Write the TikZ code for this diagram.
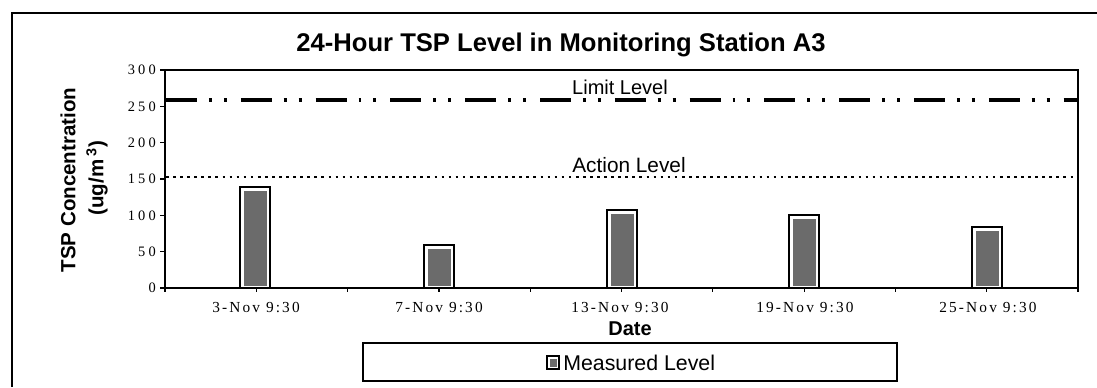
\documentclass[tikz,border=0pt]{standalone}
\usepackage{fontspec}
\setmainfont{Liberation Sans}
\newfontfamily\tickfont[LetterSpace=14]{Liberation Serif}
\newfontfamily\ytickfont[LetterSpace=22]{Liberation Serif}
\begin{document}
\begin{tikzpicture}[x=0.75pt,y=-0.75pt,
  frame/.style={line width=1.4pt},
  axisline/.style={line width=1.6pt},
  tickline/.style={line width=0.9pt},
  barout/.style={line width=1.5pt,draw=black,fill=white},
  barfill/.style={fill=black!58},
  ylab/.style={font=\ytickfont\fontsize{10.8}{12}\selectfont,anchor=east,inner sep=0pt},
  xlab/.style={font=\tickfont\fontsize{11.5}{13}\selectfont,anchor=base,inner sep=0pt},
  sans/.style={inner sep=0pt},
  limitline/.style={line width=2.3pt,dash pattern=on 23.2pt off 9pt on 2.2pt off 9pt on 2.2pt off 10.5pt},
  actionline/.style={line width=2.1pt,dash pattern=on 2pt off 3.3pt}]
\useasboundingbox (0,0) rectangle (1097,387);
% outer frame (only left and top edges visible)
\draw[frame] (12,387) -- (12,13) -- (1097,13);
% title
\node[sans,anchor=base,font=\bfseries\fontsize{19.2}{22}\selectfont] (title) at (561,51) {24-Hour TSP Level in Monitoring Station A3};
% plot area
\draw[axisline] (165,288) rectangle (1078,70);
% y ticks and labels
\foreach \v/\n in {0/y0,50/y50,100/y100,150/y150,200/y200,250/y250,300/y300}{
  \pgfmathsetmacro{\yy}{288-\v*0.72667}
  \draw[tickline] (160,\yy) -- (165,\yy);
  \node[ylab] (\n) at (156,\yy) {\v};
}
% x ticks
\foreach \k in {0,...,10}{
  \pgfmathsetmacro{\xx}{165+\k*91.3}
  \draw[tickline] (\xx,288) -- (\xx,292);
}
% level lines
\draw[limitline] (166,100) -- (1077,100);
\draw[actionline] (166,177) -- (1077,177);
\node[sans,anchor=base,font=\fontsize{15}{17}\selectfont] (limit) at (620,94) {Limit Level};
\node[sans,anchor=base,font=\fontsize{15.6}{17}\selectfont] (action) at (629,172) {Action Level};
% bars
\foreach \x/\t in {255/187,439/245,622/210,804/215,987/227}{
  \draw[barout] (\x-15,288) rectangle (\x+15,\t);
  \fill[barfill] (\x-11.5,286) rectangle (\x+11.5,\t+4);
}
% x labels
\node[xlab] (d1) at (256,312) {3-Nov 9:30};
\node[xlab] (d2) at (439,312) {7-Nov 9:30};
\node[xlab] (d3) at (620,312) {13-Nov 9:30};
\node[xlab] (d4) at (805,312) {19-Nov 9:30};
\node[xlab] (d5) at (988,312) {25-Nov 9:30};
% axis titles
\node[sans,anchor=base,font=\bfseries\fontsize{15}{17}\selectfont] (date) at (630,335) {Date};
\node[sans,rotate=90,font=\bfseries\fontsize{15.4}{17}\selectfont] (ytitle1) at (68,180) {TSP Concentration};
\node[sans,rotate=90,font=\bfseries\fontsize{15.4}{17}\selectfont] (ytitle2) at (97,178) {(ug/m\,\textsuperscript{3})};
% legend
\draw[line width=1pt] (363,343) rectangle (897,381);
\draw[line width=1.2pt,fill=white] (547,356) rectangle (559,369);
\fill[barfill] (549.5,358.5) rectangle (556.5,366.5);
\node[sans,anchor=base west,font=\fontsize{16}{18}\selectfont] (legtext) at (563,370) {Measured Level};
\end{tikzpicture}
\end{document}
